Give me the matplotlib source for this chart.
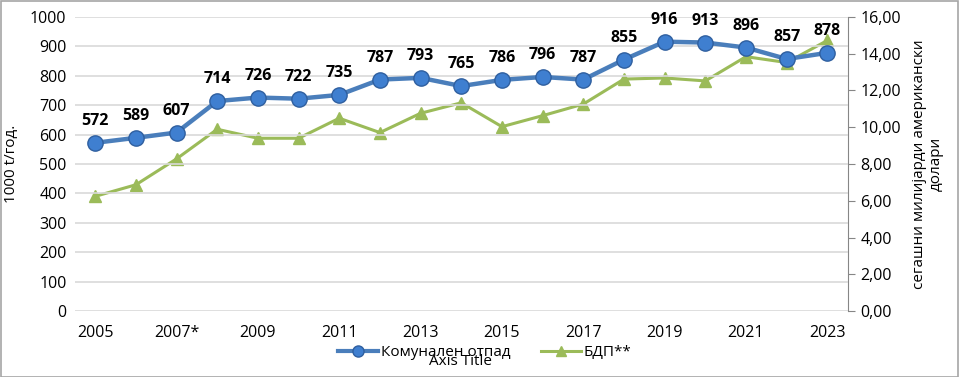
import matplotlib.pyplot as plt
from matplotlib.lines import Line2D

plt.rcParams["font.family"] = ["Open Sans", "DejaVu Sans"]

YEARS = list(range(2005, 2024))
WASTE = [572, 589, 607, 714, 726, 722, 735, 787, 793, 765, 786, 796, 787,
         855, 916, 913, 896, 857, 878]
GDP = [6.24, 6.87, 8.28, 9.89, 9.40, 9.40, 10.49, 9.71, 10.76, 11.33, 10.03,
       10.63, 11.26, 12.62, 12.68, 12.52, 13.84, 13.52, 14.72]
XTICKS = list(range(2005, 2024, 2))
XTICK_LABELS = [("2007*" if y == 2007 else str(y)) for y in XTICKS]

BLUE = "#4a7ebb"
GREEN = "#9bbb59"
TXT = "#000000"

fig = plt.figure(figsize=(9.6, 3.77), dpi=100)
ax = fig.add_axes([0.078, 0.175, 0.805, 0.78])
ax2 = ax.twinx()

ax.set_xlim(2004.5, 2023.5)
ax.set_ylim(0, 1000)
ax2.set_ylim(0, 16)
ax.set_yticks(range(0, 1001, 100))
ax2.set_yticks(range(0, 17, 2))
ax2.set_yticklabels([f"{v:.2f}".replace(".", ",") for v in range(0, 17, 2)])
ax.set_xticks(XTICKS)
ax.set_xticklabels(XTICK_LABELS)

ax.grid(axis="y", color="#d9d9d9", linewidth=1.2)
ax.set_axisbelow(True)
for a in (ax, ax2):
    for s in ("top", "left", "bottom"):
        a.spines[s].set_visible(False)
ax.spines["right"].set_visible(False)
ax2.spines["right"].set_color("#868686")
ax.tick_params(axis="both", length=0, labelsize=11.5, colors=TXT, pad=6)
ax.tick_params(axis="x", pad=10)
ax2.tick_params(axis="y", length=5, color="#868686", labelsize=11.5, colors=TXT, pad=4)

ax2.plot(YEARS, GDP, color=GREEN, linewidth=2.2, marker="^", markersize=9,
         markerfacecolor=GREEN, markeredgecolor=GREEN, zorder=2)
ax.set_zorder(ax2.get_zorder() + 1)
ax.patch.set_visible(False)
ax.plot(YEARS, WASTE, color=BLUE, linewidth=3.2, marker="o", markersize=11,
        markerfacecolor="#3f7fd0", markeredgecolor="#2f5f9f", markeredgewidth=1,
        zorder=3)
for x, v in zip(YEARS, WASTE):
    ax.annotate(str(v), (x, v), xytext=(0, 10), textcoords="offset points",
                ha="center", va="bottom", fontsize=11.5, fontweight="bold", color=TXT)

ax.set_ylabel("1000 t/год.", fontsize=11, labelpad=8)
ax2.set_ylabel("сегашни милијарди американски\nдолари", fontsize=11, labelpad=8,
               linespacing=1.2)

handles = [
    Line2D([], [], color=BLUE, linewidth=3, marker="o", markersize=8,
           markerfacecolor="#3f7fd0", markeredgecolor="#2f5f9f"),
    Line2D([], [], color=GREEN, linewidth=2.2, marker="^", markersize=7,
           markerfacecolor=GREEN, markeredgecolor=GREEN),
]
fig.legend(handles, ["Комунален отпад", "БДП**"], loc="center",
           bbox_to_anchor=(0.505, 0.065), ncol=2, frameon=False, fontsize=11,
           handlelength=2.6, handletextpad=0.2, columnspacing=2.0)
# Excel's default axis title sits under the legend, overlapping it as in the source
fig.text(0.48, 0.04, "Axis Title", ha="center", va="center", fontsize=11)

fig.patches.append(plt.Rectangle((0.001, 0.001), 0.997, 0.996, transform=fig.transFigure,
                                 fill=False, edgecolor="#a6a6a6", linewidth=1.2))

fig.savefig("out.png", dpi=100)
